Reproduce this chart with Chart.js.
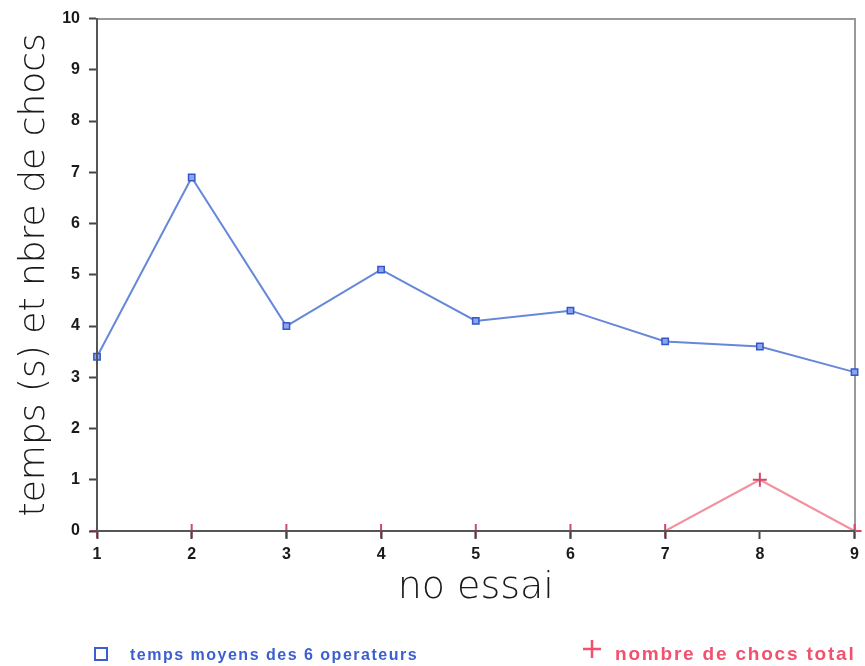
<!DOCTYPE html>
<html>
<head>
<meta charset="utf-8">
<script src="https://cdn.jsdelivr.net/npm/chart.js@4/dist/chart.umd.min.js"></script>
<style>
  html, body { margin: 0; padding: 0; background: #ffffff; }
  #wrap { width: 865px; height: 666px; position: relative; }
</style>
</head>
<body>
<div id="wrap"><canvas id="c" width="865" height="666"></canvas></div>
<script>
// trial numbers (x axis)
const essais = ['1', '2', '3', '4', '5', '6', '7', '8', '9'];
// mean time of the 6 operators, in seconds
const tempsMoyens = [3.4, 6.9, 4.0, 5.1, 4.1, 4.3, 3.7, 3.6, 3.1];
// total number of collisions
const nombreChocs = [0, 0, 0, 0, 0, 0, 0, 1, 0];
// y axis ticks
const yTicks = [0, 1, 2, 3, 4, 5, 6, 7, 8, 9, 10];

const BLUE_LINE = '#6688d8';
const BLUE_MARK = '#3557c9';
const RED_LINE = '#f3909f';
const RED_MARK = '#d2476a';

// legend drawn below the axis title, one entry on each side
const bottomLegend = {
  id: 'bottomLegend',
  afterDraw(chart) {
    const ctx = chart.ctx;
    const ds = chart.data.datasets;
    const y = 655;
    ctx.save();
    ctx.textBaseline = 'middle';
    ctx.textAlign = 'left';

    ctx.strokeStyle = '#3b5fd0';
    ctx.lineWidth = 2;
    ctx.strokeRect(95, y - 7, 12, 12);
    ctx.fillStyle = '#3b5fd0';
    ctx.font = 'bold 16px "Liberation Sans", Arial, sans-serif';
    ctx.letterSpacing = '1.5px';
    ctx.fillText(ds[0].label, 130, y + 1);

    ctx.strokeStyle = '#f2506d';
    ctx.lineWidth = 2.5;
    ctx.beginPath();
    ctx.moveTo(592, y - 15); ctx.lineTo(592, y + 3);
    ctx.moveTo(583, y - 6); ctx.lineTo(601, y - 6);
    ctx.stroke();
    ctx.fillStyle = '#f2506d';
    ctx.font = 'bold 19px "Liberation Sans", Arial, sans-serif';
    ctx.letterSpacing = '1.8px';
    ctx.fillText(ds[1].label, 615, y);
    ctx.restore();
  }
};

const xTitleFont = { family: '"DejaVu Sans", sans-serif', size: 38, weight: 200, lineHeight: 1.2 };
const yTitleFont = { family: '"DejaVu Sans", sans-serif', size: 36, weight: 200, lineHeight: 1.2 };
const tickFont = { family: '"Liberation Sans", Arial, sans-serif', size: 16, weight: 'bold' };

new Chart(document.getElementById('c'), {
  type: 'line',
  data: {
    labels: essais,
    datasets: [
      {
        label: 'temps moyens des 6 operateurs',
        data: tempsMoyens,
        borderColor: BLUE_LINE,
        borderWidth: 2,
        pointStyle: 'rect',
        pointRadius: 4.5,
        pointBorderWidth: 1.5,
        pointBorderColor: BLUE_MARK,
        pointBackgroundColor: '#8aa4ee',
        tension: 0,
        clip: false
      },
      {
        label: 'nombre de chocs total',
        data: nombreChocs,
        borderColor: RED_LINE,
        borderWidth: 2,
        pointStyle: 'cross',
        pointRadius: 7,
        pointBorderWidth: 2,
        pointBorderColor: RED_MARK,
        tension: 0,
        clip: false
      }
    ]
  },
  options: {
    responsive: false,
    animation: false,
    layout: { padding: { top: 15, right: 9, bottom: 55, left: 0 } },
    plugins: { legend: { display: false }, tooltip: { enabled: false } },
    scales: {
      x: {
        type: 'category',
        position: 'bottom',
        offset: false,
        grid: { z: 1, display: true, drawOnChartArea: false, drawTicks: true, tickLength: 8, tickColor: '#444', tickWidth: 2 },
        border: { z: 1, display: true, color: '#555', width: 2 },
        ticks: { font: tickFont, color: '#1a1a1a', padding: 6, maxRotation: 0 },
        title: { display: true, text: 'no essai', font: xTitleFont, color: '#1a1a1a', padding: { top: 0, bottom: 0 } },
        afterFit(s) { s.height = 80; }
      },
      y: {
        type: 'linear',
        position: 'left',
        min: 0,
        max: 10,
        afterBuildTicks(s) { s.ticks = yTicks.map(v => ({ value: v })); },
        grid: { z: 1, display: true, drawOnChartArea: false, drawTicks: true, tickLength: 8, tickColor: '#444', tickWidth: 2 },
        border: { z: 1, display: true, color: '#555', width: 2 },
        ticks: { font: tickFont, color: '#1a1a1a', padding: 9 },
        title: { display: true, text: 'temps (s) et nbre de chocs', font: yTitleFont, color: '#1a1a1a', padding: { top: 13, bottom: 0 } },
        afterFit(s) { s.width = 97; }
      },
      xTop: {
        type: 'category',
        position: 'top',
        labels: essais,
        offset: false,
        grid: { display: true, drawOnChartArea: false, drawTicks: false },
        border: { display: true, color: '#999', width: 2 },
        ticks: { display: false },
        afterFit(s) { s.height = 0; }
      },
      yRight: {
        type: 'linear',
        position: 'right',
        min: 0,
        max: 10,
        grid: { display: true, drawOnChartArea: false, drawTicks: false },
        border: { display: true, color: '#999', width: 2 },
        ticks: { display: false },
        afterFit(s) { s.width = 0; }
      }
    }
  },
  plugins: [bottomLegend]
});
</script>
</body>
</html>
